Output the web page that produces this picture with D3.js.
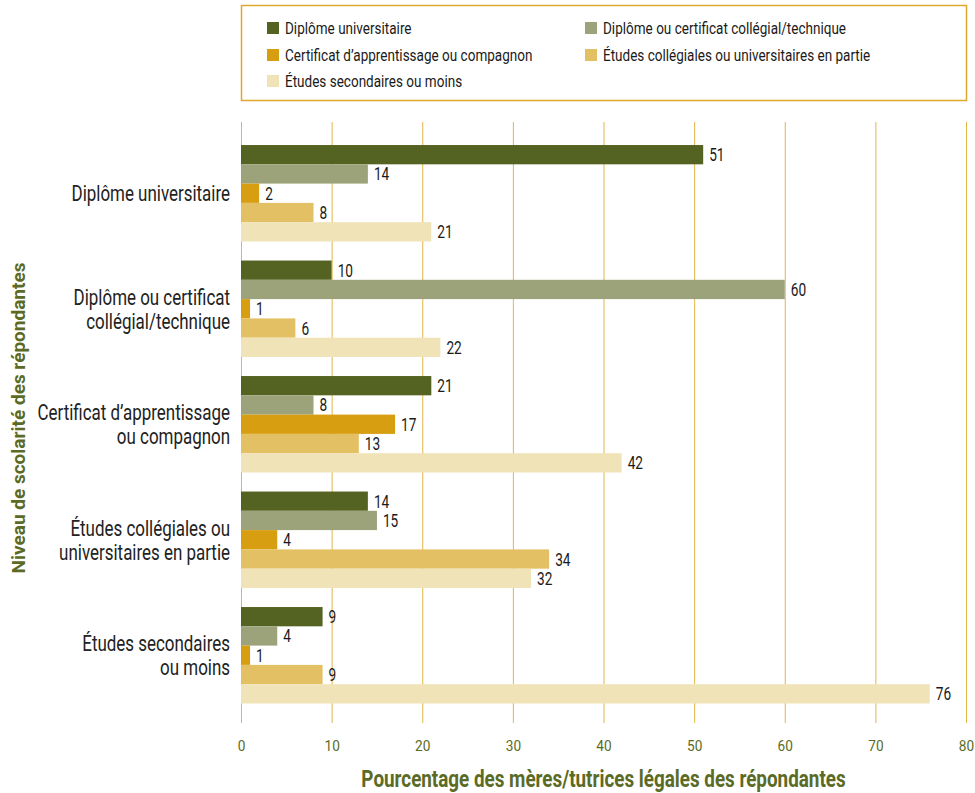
<!DOCTYPE html>
<html lang="fr">
<head>
<meta charset="utf-8">
<script src="https://cdn.jsdelivr.net/npm/d3@7"></script>
<style>
  html, body { margin: 0; padding: 0; background: #fff; }
  svg { display: block; font-family: "Roboto", "Liberation Sans", sans-serif; }
</style>
</head>
<body>
<svg id="chart" width="975" height="793"></svg>
<script>
// Niveau de scolarité des répondantes (groups) and the mothers' level (series)
const categories = [
  ["Diplôme universitaire"],
  ["Diplôme ou certificat", "collégial/technique"],
  ["Certificat d’apprentissage", "ou compagnon"],
  ["Études collégiales ou", "universitaires en partie"],
  ["Études secondaires", "ou moins"]
];
const series = [
  "Diplôme universitaire",
  "Diplôme ou certificat collégial/technique",
  "Certificat d’apprentissage ou compagnon",
  "Études collégiales ou universitaires en partie",
  "Études secondaires ou moins"
];
const colors = ["#556322", "#9ca37a", "#d69e10", "#e3c064", "#f1e3b8"];

// values[group][series]
const sDiplomeUniv   = [51, 14, 2, 8, 21];
const sCollegial     = [10, 60, 1, 6, 22];
const sApprentissage = [21, 8, 17, 13, 42];
const sEnPartie      = [14, 15, 4, 34, 32];
const sSecondaires   = [9, 4, 1, 9, 76];
const values = [sDiplomeUniv, sCollegial, sApprentissage, sEnPartie, sSecondaires];

const xTicks = [0, 10, 20, 30, 40, 50, 60, 70, 80];

const svg = d3.select("#chart");
const olive = "#5b6b26";
const grid = "#e2b54a";

// Condensed lettering: anchor each text at (x, y) and squeeze it horizontally by k
function place(sel, fx, fy, k) {
  sel.attr("transform", (d, i) => `translate(${fx(d, i)},${fy(d, i)}) scale(${k},1)`);
}

const x = d3.scaleLinear().domain([0, 80]).range([241, 966]);
const groupKeys = categories.map(c => c.join(" "));
const y0 = d3.scaleBand().domain(groupKeys).range([135.5, 713]).paddingInner(0.165).paddingOuter(0.0825);
const y1 = d3.scaleBand().domain(d3.range(series.length)).range([0, y0.bandwidth()]).padding(0);

// Legend box
const lg = svg.append("g");
lg.append("rect").attr("x", 241.5).attr("y", 5.5).attr("width", 725).attr("height", 95)
  .attr("fill", "none").attr("stroke", "#dea92a").attr("stroke-width", 1.5);
const legendPos = [[267, 28], [585, 28], [267, 55], [585, 55], [267, 81]];
const legItems = lg.selectAll("g.item").data(series).join("g").attr("class", "item");
legItems.append("rect")
  .attr("x", (d, i) => legendPos[i][0]).attr("y", (d, i) => legendPos[i][1] - 6)
  .attr("width", 12).attr("height", 12).attr("fill", (d, i) => colors[i]);
const legText = legItems.append("text").attr("dy", "0.36em")
  .attr("font-size", 16.5).attr("fill", "#1a1a1a").text(d => d);
place(legText, (d, i) => legendPos[i][0] + 18, (d, i) => legendPos[i][1], 0.82);

// Vertical grid lines reaching below the plot as ticks
svg.append("g").selectAll("line").data(xTicks).join("line")
  .attr("x1", d => x(d) + 0.5).attr("x2", d => x(d) + 0.5)
  .attr("y1", 122).attr("y2", 723)
  .attr("stroke", grid).attr("stroke-width", 1);

const xAxis = d3.axisBottom(x).tickValues(xTicks).tickSize(0).tickPadding(0);
const axisG = svg.append("g").attr("transform", "translate(0,745)").call(xAxis);
axisG.select(".domain").remove();
axisG.selectAll("text").attr("font-size", 15.5).attr("fill", olive)
  .attr("font-family", "Roboto, sans-serif").attr("y", 0).attr("dy", "0.36em")
  .attr("transform", "scale(0.88,1)");

// Bars
const groups = svg.append("g").selectAll("g").data(values).join("g")
  .attr("transform", (d, i) => `translate(0,${y0(groupKeys[i])})`);
groups.selectAll("rect").data(d => d).join("rect")
  .attr("x", x(0))
  .attr("y", (d, j) => y1(j))
  .attr("width", d => x(d) - x(0))
  .attr("height", y1.bandwidth())
  .attr("fill", (d, j) => colors[j]);
const vals = groups.selectAll("text").data(d => d).join("text")
  .attr("dy", "0.36em")
  .attr("font-size", 18).attr("fill", "#1a1a1a")
  .text(d => d);
place(vals, d => x(d) + 6, (d, j) => y1(j) + y1.bandwidth() / 2, 0.76);

// Category labels, one text element per line
const catLines = [];
categories.forEach((lines, i) => {
  const cy = y0(groupKeys[i]) + y0.bandwidth() / 2;
  lines.forEach((ln, k) => catLines.push({ text: ln, y: cy + (k - (lines.length - 1) / 2) * 24 }));
});
const cat = svg.append("g").selectAll("text").data(catLines).join("text")
  .attr("text-anchor", "end").attr("dy", "0.36em")
  .attr("font-size", 22).attr("fill", "#222").text(d => d.text);
place(cat, () => 230, d => d.y, 0.77);

// Axis titles
const xt = svg.append("text").attr("dy", "0.36em")
  .attr("text-anchor", "middle").attr("font-size", 23).attr("font-weight", "bold").attr("fill", olive)
  .text("Pourcentage des mères/tutrices légales des répondantes");
place(xt, () => 603.5, () => 779, 0.82);
svg.append("text").attr("transform", "translate(18,418) rotate(-90)").attr("dy", "0.36em")
  .attr("text-anchor", "middle").attr("font-size", 19).attr("font-weight", "bold").attr("fill", olive)
  .text("Niveau de scolarité des répondantes");
</script>
</body>
</html>
